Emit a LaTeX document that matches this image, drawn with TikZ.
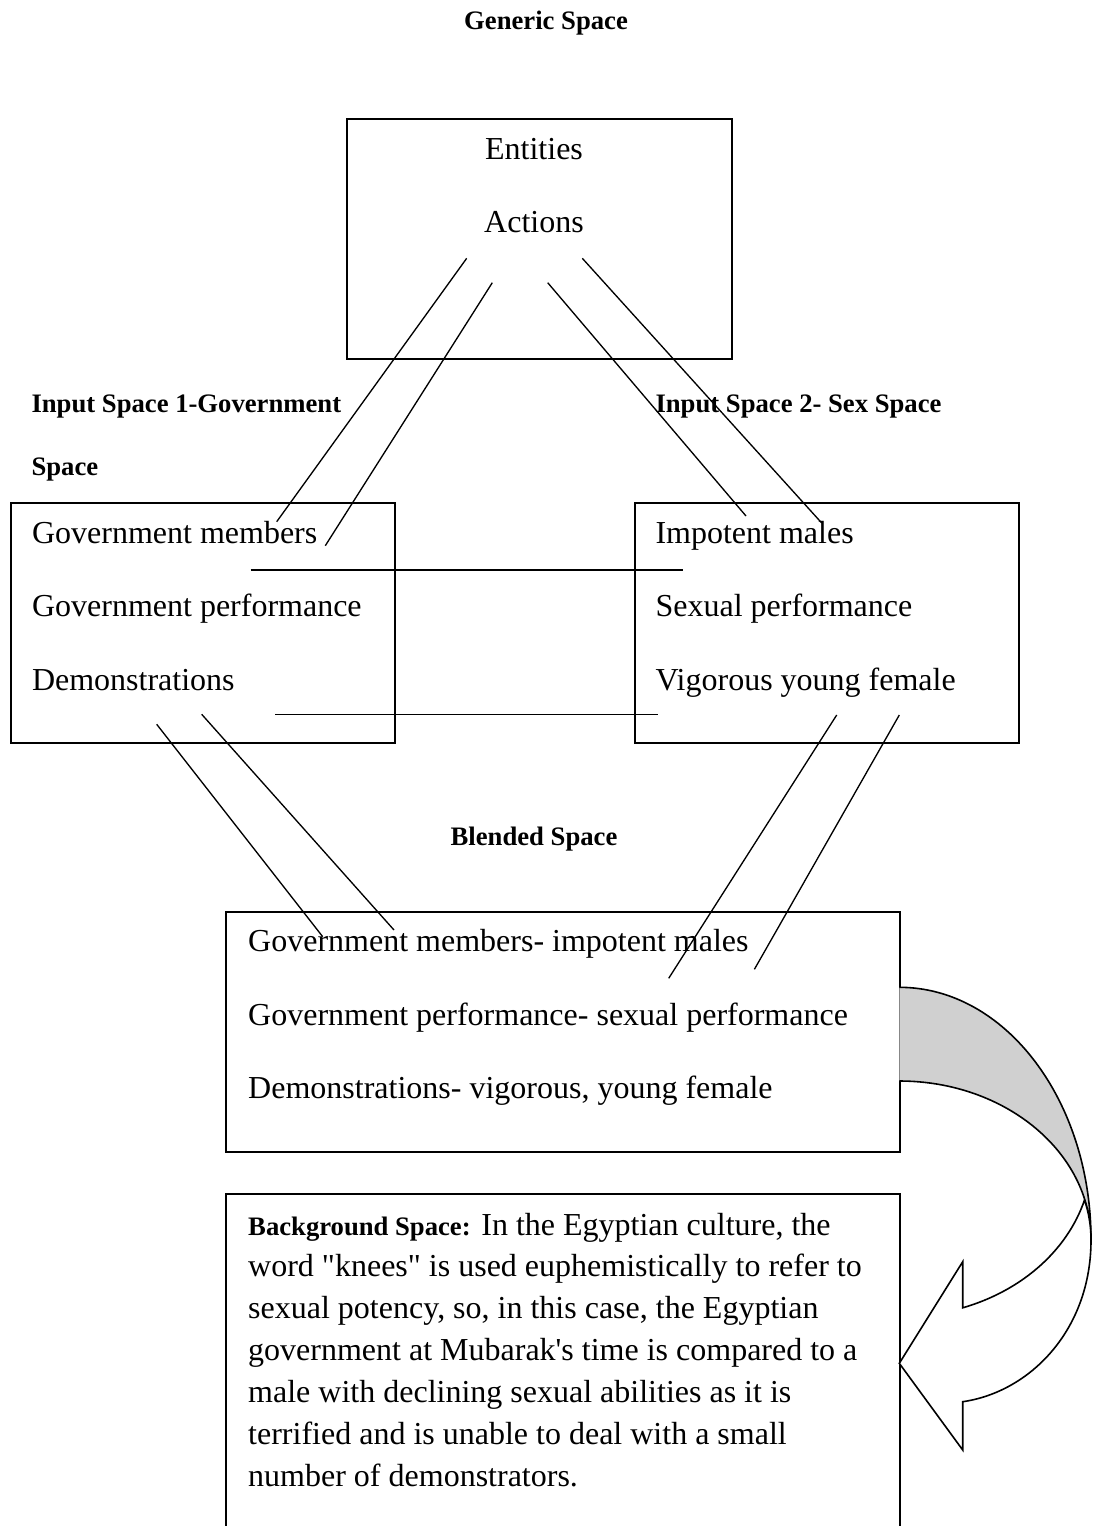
\documentclass[tikz,border=0pt]{standalone}
\usepackage{fontspec}
\setmainfont{Liberation Serif}[Ligatures=TeXOff]
\definecolor{backface}{RGB}{208,208,208}
\begin{document}
\begin{tikzpicture}[x=0.375pt,y=-0.375pt,
  heading/.style={font=\fontsize{10}{12}\selectfont\bfseries, inner sep=0pt},
  entry/.style={font=\fontsize{12}{14}\selectfont, inner sep=0pt, anchor=base west},
  spacebox/.style={draw, line width=0.75pt, inner sep=0pt, outer sep=0pt, anchor=north west},
  link/.style={line width=0.5pt},
  arrowline/.style={line width=0.6pt, line join=miter}]
\useasboundingbox (0,0) rectangle (1092,1526);
\clip (0,0) rectangle (1092,1526);

% ---------- frames of the five spaces ----------
\node[spacebox, minimum width=144.4pt, minimum height=90.1pt] (generic) at (346.7,119) {};
\node[spacebox, minimum width=144.2pt, minimum height=89.8pt] (input1) at (10.5,503.3) {};
\node[spacebox, minimum width=144.2pt, minimum height=89.8pt] (input2) at (634.5,503.3) {};
\node[spacebox, minimum width=252.6pt, minimum height=90pt] (blend) at (226,911.5) {};
\node[spacebox, minimum width=252.6pt, minimum height=150pt] (background) at (226,1194) {};

% ---------- headings ----------
\node[heading, anchor=base] (genericlabel) at (546,29.3) {Generic Space};
\node[heading, anchor=base west] (input1label) at (31,412.3) {Input Space 1-Government};
\node[heading, anchor=base west] (input1label2) at (31,475) {Space};
\node[heading, anchor=base west] (input2label) at (655,412.3) {Input Space 2- Sex Space};
\node[heading, anchor=base] (blendlabel) at (534,845) {Blended Space};

% ---------- contents ----------
\node[entry, anchor=base] (entities) at (534,160) {Entities};
\node[entry, anchor=base] (actions) at (534,232.3) {Actions};

\node[entry] (govmembers) at (31.5,543.3) {Government members};
\node[entry] (govperf) at (31.5,616.7) {Government performance};
\node[entry] (demos) at (31.5,690) {Demonstrations};

\node[entry] (impotent) at (655,543.3) {Impotent males};
\node[entry] (sexperf) at (655,616.7) {Sexual performance};
\node[entry] (vigorous) at (655,690) {Vigorous young female};

\node[entry] (blend1) at (247.7,951.7) {Government members- impotent males};
\node[entry] (blend2) at (247.7,1025.7) {Government performance- sexual performance};
\node[entry] (blend3) at (247.7,1098.3) {Demonstrations- vigorous, young female};

% paragraph placed by the baseline of its last line
\node[entry, align=left, font=\fontsize{12}{15.73}\selectfont] (bgtext) at (247.7,1486.7)
  {{\fontsize{10}{15.73}\selectfont\bfseries Background Space:} In the Egyptian culture, the\\
   word "knees" is used euphemistically to refer to\\
   sexual potency, so, in this case, the Egyptian\\
   government at Mubarak's time is compared to a\\
   male with declining sexual abilities as it is\\
   terrified and is unable to deal with a small\\
   number of demonstrators.};

% ---------- mapping lines ----------
\coordinate (g1) at (466.7,258.3);
\coordinate (g2) at (492.3,282.7);
\coordinate (g3) at (547.7,282.7);
\coordinate (g4) at (582.3,258.3);
\coordinate (i1a) at (276.7,521.7);
\coordinate (i1b) at (325.3,545.7);
\coordinate (i2a) at (746,516);
\coordinate (i2b) at (821.7,523);
\coordinate (h1s) at (250.7,570);
\coordinate (h1e) at (682.7,570);
\coordinate (h2s) at (275,714.3);
\coordinate (h2e) at (658.3,714.3);
\coordinate (d1) at (156.7,724.3);
\coordinate (d2) at (201.7,714.3);
\coordinate (f1) at (836.7,715);
\coordinate (f2) at (899.3,715);
\coordinate (b1) at (322.7,936.7);
\coordinate (b2) at (394,930);
\coordinate (b3) at (668.7,978.3);
\coordinate (b4) at (754.4,969.3);

\draw[link] (g1) -- (i1a);
\draw[link] (g2) -- (i1b);
\draw[link] (g3) -- (i2a);
\draw[link] (g4) -- (i2b);
\draw[link] (h1s) -- (h1e);
\draw[link] (h2s) -- (h2e);
\draw[link] (d1) -- (b1);
\draw[link] (d2) -- (b2);
\draw[link] (f1) -- (b3);
\draw[link] (f2) -- (b4);

% ---------- curved arrow from the blended space to the background space ----------
\coordinate (atop) at (899.3,987.3);
\coordinate (aright) at (1091,1240);
\coordinate (ainner) at (899.3,1081);
\coordinate (across) at (1084.5,1200);
\coordinate (anotchin) at (962.7,1307.8);
\coordinate (abarbup) at (962.7,1261.7);
\coordinate (atip) at (899.3,1363.3);
\coordinate (abarbdown) at (962.7,1450);
\coordinate (anotchout) at (962.7,1401.7);

% back face of the band
\fill[backface] (atop) .. controls (1005.2,987.3) and (1091,1100.4) .. (aright)
  .. controls (1091,1152.2) and (1005.2,1081) .. (ainner) -- cycle;
\draw[arrowline] (atop) .. controls (1005.2,987.3) and (1091,1100.4) .. (aright)
  .. controls (1091,1152.2) and (1005.2,1081) .. (ainner);

% front face with the arrow head
\filldraw[arrowline, fill=white] (across) .. controls (1067.4,1250.2) and (1022.1,1290.6) .. (anotchin)
  -- (abarbup) -- (atip) -- (abarbdown) -- (anotchout)
  .. controls (1030,1392) and (1091,1330) .. (aright)
  .. controls (1091,1226.5) and (1088.9,1213) .. (across) -- cycle;
\end{tikzpicture}
\end{document}
